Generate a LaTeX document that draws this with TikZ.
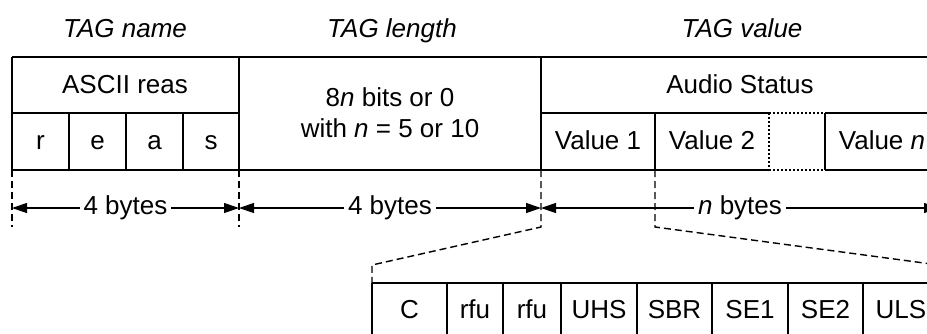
\documentclass[tikz,border=0pt]{standalone}
\usepackage{fontspec}
\setmainfont{Liberation Sans}
\usetikzlibrary{arrows.meta}

\begin{document}
\begin{tikzpicture}[x=1pt,y=-1pt]
\tikzset{every node/.style={inner sep=0pt,anchor=base,font=\fontsize{26}{30}\selectfont},
  grid/.style={black,line width=1.5pt},
  dotgrid/.style={black,line width=1.2pt,dash pattern=on 2pt off 2pt},
  guide/.style={black,line width=1.4pt,dash pattern=on 7pt off 4pt},
  dimline/.style={black,line width=1.2pt,{Triangle[length=15pt,width=10pt]}-{Triangle[length=15pt,width=10pt]}},
  dimlabel/.style={fill=white,inner sep=4pt,anchor=center,text height=19pt,text depth=6pt}}
\clip (0,0) rectangle (927,333);
% titles
\node (tname) at (125,37) {\textit{TAG name}};
\node (tlength) at (392,37) {\textit{TAG length}};
\node (tvalue) at (742,37) {\textit{TAG value}};
% upper table
\draw [grid] (12,57) -- (939,57);
\draw [grid] (12,113) -- (239,113);
\draw [grid] (541,113) -- (769,113);
\draw [dotgrid] (769,113) -- (825,113);
\draw [grid] (825,113) -- (939,113);
\draw [grid] (12,170) -- (769,170);
\draw [dotgrid] (769,170) -- (825,170);
\draw [grid] (825,170) -- (939,170);
\foreach \x in {12,239,541,939} \draw [grid] (\x,57) -- (\x,170);
\foreach \x in {69,126,183,655,825} \draw [grid] (\x,113) -- (\x,170);
\draw [dotgrid] (769,113) -- (769,170);
\node (ascii) at (125,93) {ASCII reas};
\foreach \ch/\x [count=\i] in {r/40.5,e/97.5,a/154.5,s/211}
  \node (ch\i) at (\x,149) {\ch};
\node (len1) at (390,106) {8\textit{n} bits or 0};
\node (len2) at (390,137) {with \textit{n} = 5 or 10};
\node (audio) at (740,93) {Audio Status};
\node (val1) at (598,149) {Value 1};
\node (val2) at (712,149) {Value 2};
\node (valn) at (882,149) {Value \textit{n}};
% sizes
\coordinate (d0) at (12,208);
\coordinate (d1) at (239,208);
\coordinate (d2) at (541,208);
\coordinate (d3) at (939,208);
\draw [dimline] (d0) -- node [dimlabel] (b0) {4 bytes} (d1);
\draw [dimline] (d1) -- node [dimlabel] (b1) {4 bytes} (d2);
\draw [dimline] (d2) -- node [dimlabel] (b2) {\textit{n} bytes} (d3);
% guides
\coordinate (g0) at (12,170);
\coordinate (g0e) at (12,227);
\coordinate (g1) at (239,170);
\coordinate (g1e) at (239,227);
\coordinate (g2) at (541,170);
\coordinate (g2k) at (541,227);
\coordinate (g2m) at (372,265);
\coordinate (g2e) at (372,283);
\coordinate (g3) at (655,170);
\coordinate (g3k) at (655,227);
\coordinate (g3m) at (939,265);
\coordinate (g3e) at (939,283);
\draw [guide] (g0) -- (g0e);
\draw [guide] (g1) -- (g1e);
\draw [guide] (g2) -- (g2k) -- (g2m) -- (g2e);
\draw [guide] (g3) -- (g3k) -- (g3m) -- (g3e);
% lower table
\draw [grid] (372,283) -- (939,283);
\draw [grid] (372,340) -- (939,340);
\foreach \x in {372,447,503,561,637,712,788,863,939} \draw [grid] (\x,283) -- (\x,340);
\foreach \bit/\x [count=\i] in {C/409.5,rfu/475,rfu/532,UHS/599,SBR/674.5,SE1/750,SE2/825.5,ULS/901}
  \node (bit\i) at (\x,318) {\bit};
\end{tikzpicture}
\end{document}
